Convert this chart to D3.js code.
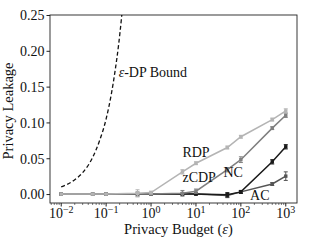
<!DOCTYPE html>
<html>
<head>
<meta charset="utf-8">
<script src="https://cdn.jsdelivr.net/npm/d3@7"></script>
<style>
  body { margin: 0; background: #fff; }
  svg { display: block; }
  text { font-family: "Liberation Serif", "Times New Roman", serif; fill: #111; }
</style>
</head>
<body>
<svg width="310" height="247"></svg>
<script>
// privacy budgets (x) shared by all measured series
let epsilons = [0.01, 0.05, 0.1, 0.5, 1, 5, 10, 50, 100, 500, 1000];
let rdp      = [0, 0, 0, 0.001, 0.002, 0.031, 0.043, 0.065, 0.080, 0.104, 0.116];
let rdpErr   = [0, 0, 0, 0.005, 0.002, 0.003, 0.002, 0.002, 0.002, 0.002, 0.003];
let zcdp     = [0, 0, 0, 0, 0, 0.001, 0.004, 0.034, 0.048, 0.092, 0.110];
let zcdpErr  = [0, 0, 0, 0.003, 0.001, 0.004, 0.003, 0.003, 0.004, 0.002, 0.003];
let nc       = [0, 0, 0, 0, 0, 0, 0, -0.001, 0.003, 0.045, 0.066];
let ncErr    = [0, 0, 0, 0, 0, 0.001, 0.001, 0.003, 0.002, 0.003, 0.003];
let ac       = [0, 0, 0, 0, 0, 0, 0, -0.002, 0.003, 0.014, 0.025];
let acErr    = [0, 0, 0, 0, 0, 0.001, 0.001, 0.003, 0.002, 0.002, 0.006];
// dashed bound
let boundEps = [0.01, 0.02, 0.03, 0.05, 0.07, 0.1, 0.13, 0.16, 0.19, 0.22, 0.24];
let boundVal = [0.010, 0.020, 0.030, 0.051, 0.073, 0.105, 0.139, 0.174, 0.209, 0.246, 0.271];
let yTicks = [0, 0.05, 0.10, 0.15, 0.20, 0.25];
let xTicks = [-2, -1, 0, 1, 2, 3];

let svg = d3.select("svg");
let margin = { top: 15, right: 13, bottom: 44, left: 50 };
let width = 310 - margin.left - margin.right;
let height = 247 - margin.top - margin.bottom;
let g = svg.append("g").attr("transform", `translate(${margin.left},${margin.top})`);

let x = d3.scaleLog().domain([Math.pow(10, -2.25), Math.pow(10, 3.25)]).range([0, width]);
let y = d3.scaleLinear().domain([-0.0125, 0.25]).range([height, 0]);

g.append("clipPath").attr("id", "clip")
  .append("rect").attr("width", width).attr("height", height);

// y axis
let yAxis = g.append("g")
  .call(d3.axisLeft(y).tickValues(yTicks).tickFormat(d3.format(".2f")).tickSizeOuter(0).tickSize(3.5));
yAxis.attr("font-family", null);
yAxis.select(".domain").remove();
yAxis.selectAll("line").attr("stroke", "#222");
yAxis.selectAll("text").attr("font-size", 14).attr("x", -5.5).attr("dy", "0.34em");

// x axis with minor ticks
let minor = [];
for (let e = -3; e <= 3; e++) for (let k = 2; k <= 9; k++) {
  let v = k * Math.pow(10, e);
  if (v > x.domain()[0] && v < x.domain()[1]) minor.push(v);
}
let xg = g.append("g").attr("transform", `translate(0,${height})`);
xg.selectAll(".minor").data(minor).enter().append("line")
  .attr("x1", d => x(d)).attr("x2", d => x(d)).attr("y1", 0).attr("y2", 2)
  .attr("stroke", "#222").attr("stroke-width", 0.6);
xg.selectAll(".major").data(xTicks).enter().append("line")
  .attr("x1", d => x(Math.pow(10, d))).attr("x2", d => x(Math.pow(10, d))).attr("y1", 0).attr("y2", 3.5)
  .attr("stroke", "#222");
let xl = xg.selectAll(".lab").data(xTicks).enter().append("text")
  .attr("x", d => x(Math.pow(10, d))).attr("y", 15).attr("text-anchor", "middle")
  .attr("font-size", 14);
xl.append("tspan").text("10");
xl.append("tspan").attr("font-size", 10).attr("dy", -5.5).text(d => d < 0 ? "\u2212" + (-d) : d);

// frame
g.append("rect").attr("width", width).attr("height", height)
  .attr("fill", "none").attr("stroke", "#222").attr("stroke-width", 0.9);

// axis titles
let xt = g.append("text").attr("x", width / 2 + 5).attr("y", height + 31).attr("text-anchor", "middle")
  .attr("font-size", 14.5);
xt.append("tspan").text("Privacy Budget (");
xt.append("tspan").attr("font-style", "italic").text("ε");
xt.append("tspan").text(")");
svg.append("text").attr("transform", `translate(13,${margin.top + height / 2 + 2}) rotate(-90)`)
  .attr("text-anchor", "middle").attr("font-size", 14.5).text("Privacy Leakage");

let plot = g.append("g").attr("clip-path", "url(#clip)");

// bound
let bound = boundEps.map((e, i) => [e, boundVal[i]]);
plot.append("path").datum(bound)
  .attr("d", d3.line().x(d => x(d[0])).y(d => y(d[1])).curve(d3.curveMonotoneX))
  .attr("fill", "none").attr("stroke", "#111").attr("stroke-width", 1.3).attr("stroke-dasharray", "4,2.5");

let series = [
  { name: "AC", vals: ac, err: acErr, color: "#555555" },
  { name: "NC", vals: nc, err: ncErr, color: "#1a1a1a" },
  { name: "zCDP", vals: zcdp, err: zcdpErr, color: "#808080" },
  { name: "RDP", vals: rdp, err: rdpErr, color: "#b4b4b4" }
];

series.forEach(s => {
  let pts = epsilons.map((e, i) => ({ e: e, v: s.vals[i], err: s.err[i] }));
  let sg = plot.append("g");
  sg.append("path").datum(pts)
    .attr("d", d3.line().x(d => x(d.e)).y(d => y(d.v)))
    .attr("fill", "none").attr("stroke", s.color).attr("stroke-width", 1.5);
  let eb = sg.selectAll(".eb").data(pts.filter(d => d.err > 0)).enter().append("g");
  eb.append("line").attr("x1", d => x(d.e)).attr("x2", d => x(d.e))
    .attr("y1", d => y(d.v - d.err)).attr("y2", d => y(d.v + d.err))
    .attr("stroke", s.color).attr("stroke-width", 1);
  [-1, 1].forEach(sg2 => {
    eb.append("line").attr("x1", d => x(d.e) - 2).attr("x2", d => x(d.e) + 2)
      .attr("y1", d => y(d.v + sg2 * d.err)).attr("y2", d => y(d.v + sg2 * d.err))
      .attr("stroke", s.color).attr("stroke-width", 1);
  });
  sg.selectAll(".pt").data(pts).enter().append("rect")
    .attr("x", d => x(d.e) - 1.7).attr("y", d => y(d.v) - 1.7)
    .attr("width", 3.4).attr("height", 3.4).attr("fill", s.color);
});

// labels
let labels = [
  { t: "-DP Bound", eps: true, e: 0.19, v: 0.163 },
  { t: "RDP", e: 5, v: 0.052 },
  { t: "zCDP", e: 5, v: 0.017 },
  { t: "NC", e: 41, v: 0.024 },
  { t: "AC", e: 160, v: -0.009 }
];
let lt = g.selectAll(".lbl").data(labels).enter().append("text")
  .attr("x", d => x(d.e)).attr("y", d => y(d.v)).attr("font-size", 14);
lt.filter(d => d.eps).append("tspan").attr("font-style", "italic").text("ε");
lt.append("tspan").text(d => d.t);
</script>
</body>
</html>
